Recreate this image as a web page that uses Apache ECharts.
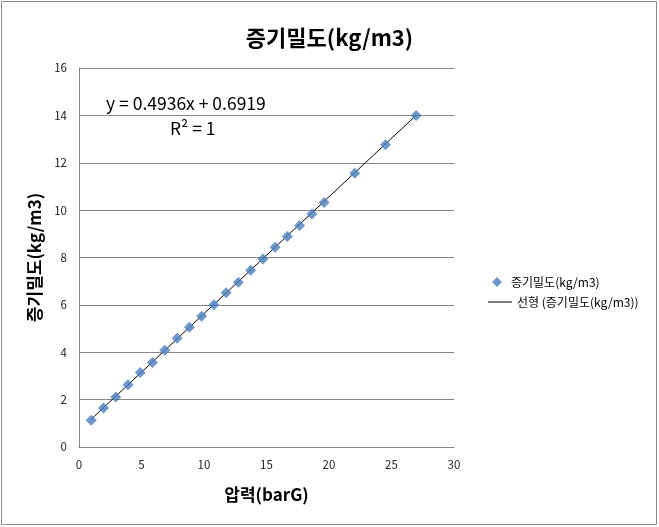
<!DOCTYPE html>
<html><head><meta charset="utf-8">
<script src="https://cdn.jsdelivr.net/npm/echarts@6/dist/echarts.min.js"></script>
<style>html,body{margin:0;padding:0;background:#fff}#c{width:659px;height:527px}</style>
</head><body><div id="c"></div>
<script>
// pressure (barG)
var pressure = [0.98,1.96,2.94,3.92,4.90,5.88,6.86,7.85,8.83,9.81,10.79,11.77,12.75,13.73,14.71,15.69,16.67,17.65,18.63,19.61,22.06,24.52,26.97];
// steam density (kg/m3)
var density = [1.13,1.65,2.11,2.63,3.14,3.57,4.08,4.59,5.06,5.52,6.01,6.51,6.95,7.46,7.94,8.43,8.89,9.35,9.84,10.32,11.56,12.76,14.00];
var slope = 0.4936, intercept = 0.6919;
var xTicks = [0,5,10,15,20,25,30];
var yTicks = [0,2,4,6,8,10,12,14,16];
var seriesName = '증기밀도(kg/m3)';
var trendName = '선형 (증기밀도(kg/m3))';

var pts = pressure.map(function(x,i){return [x, density[i]];});
var xmin = Math.min.apply(null, pressure), xmax = Math.max.apply(null, pressure);
var trend = [[xmin, slope*xmin+intercept],[xmax, slope*xmax+intercept]];
var F = "'Noto Sans CJK KR','Noto Sans',sans-serif";
var chart = echarts.init(document.getElementById('c'));
chart.setOption({
  animation:false,
  backgroundColor:'#fff',
  title:{text:'증기밀도(kg/m3)', left:'center', top:22,
    textStyle:{fontFamily:F, fontSize:22, fontWeight:'bold', color:'#000'}},
  grid:{left:79, top:68, width:375, height:379},
  xAxis:{type:'value', min:xTicks[0], max:xTicks[xTicks.length-1], interval:5,
    name:'압력(barG)', nameLocation:'middle', nameGap:39,
    nameTextStyle:{fontFamily:F, fontSize:17, fontWeight:'bold', color:'#000'},
    axisLine:{lineStyle:{color:'#868686'}}, axisTick:{show:false},
    axisLabel:{fontFamily:F, fontSize:11.5, color:'#222', margin:12},
    splitLine:{show:false}},
  yAxis:{type:'value', min:yTicks[0], max:yTicks[yTicks.length-1], interval:2,
    name:'증기밀도(kg/m3)', nameLocation:'middle', nameGap:35,
    nameTextStyle:{fontFamily:F, fontSize:17, fontWeight:'bold', color:'#000'},
    axisLine:{show:true, lineStyle:{color:'#868686'}}, axisTick:{show:false},
    axisLabel:{fontFamily:F, fontSize:11.5, color:'#222', margin:12},
    splitLine:{lineStyle:{color:'#868686'}}},
  legend:[
    {left:487, top:271, orient:'vertical', itemWidth:10, itemHeight:10,
     data:[{name:seriesName, icon:'diamond'}],
     textStyle:{fontFamily:F, fontSize:12, color:'#000', padding:[0,0,0,4]}},
    {left:483, top:291, orient:'vertical', itemWidth:24, itemHeight:1,
     data:[{name:trendName, icon:'rect'}],
     textStyle:{fontFamily:F, fontSize:12, color:'#000'}}
  ],
  graphic:[
    {type:'rect', shape:{x:1.5,y:1.5,width:655,height:523}, style:{fill:'none', stroke:'#8a8a8a', lineWidth:1}, silent:true},
    {type:'text', left:106, top:95, style:{text:'y = 0.4936x + 0.6919', font:'17.5px '+F, fill:'#000'}},
    {type:'text', left:170, top:120, style:{text:'R² = 1', font:'17.5px '+F, fill:'#000'}}
  ],
  series:[
    {name:trendName, type:'line', data:trend, symbol:'none', z:2,
     lineStyle:{color:'#000', width:1}, itemStyle:{color:'#000'}},
    {name:seriesName, type:'scatter', data:pts, symbol:'diamond', symbolSize:11, z:3,
     itemStyle:{color:'#4A7EBB'}}
  ]
});
</script></body></html>
